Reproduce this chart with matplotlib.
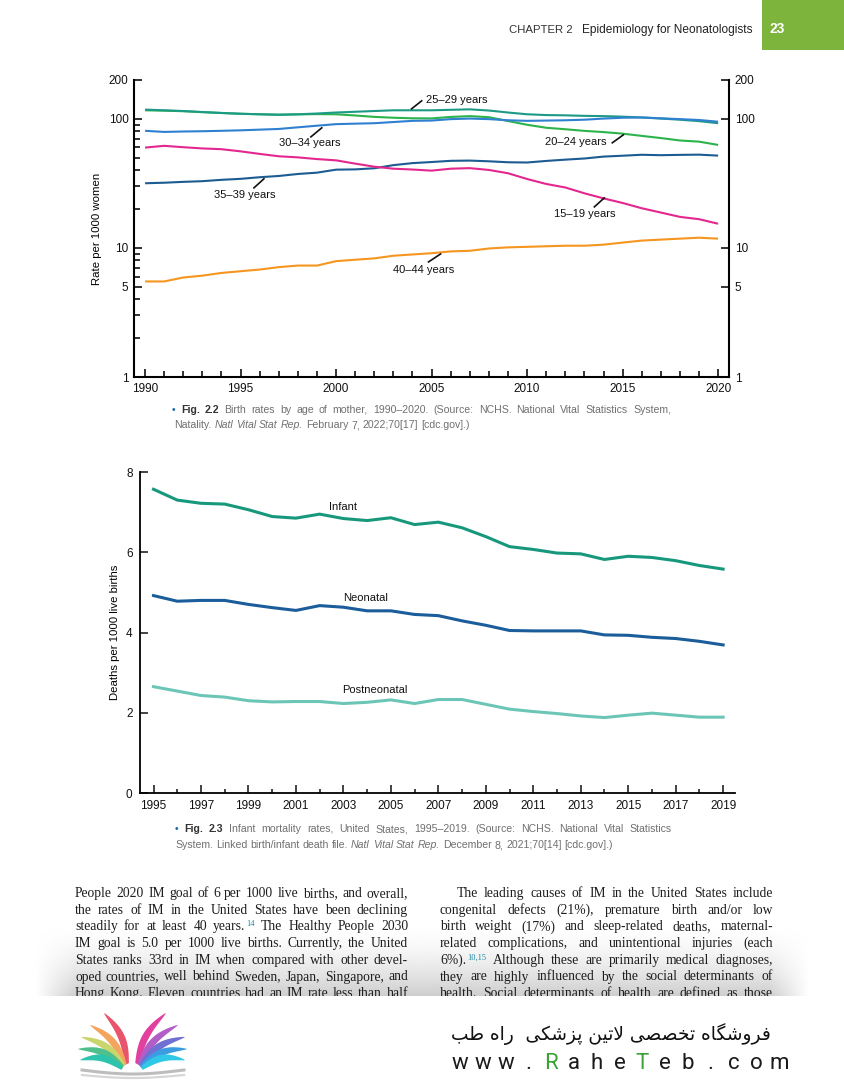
import numpy as np
import matplotlib
matplotlib.use('Agg')
import matplotlib.pyplot as plt
from matplotlib.patches import Rectangle, Polygon
from matplotlib.ticker import FixedLocator, NullFormatter

plt.rcParams['font.family'] = ['Liberation Sans', 'DejaVu Sans']

# Fig 2.2 - birth rates per 1000 women by age of mother
birth_years = list(range(1990, 2021))
rate_15_19 = [59.9, 61.8, 60.3, 59.0, 58.2, 56.0, 53.5, 51.3, 50.3, 48.8, 47.7, 45.0, 42.6, 41.1, 40.5, 39.7,
              41.1, 41.5, 40.2, 37.9, 34.2, 31.3, 29.4, 26.5, 24.2, 22.3, 20.3, 18.8, 17.4, 16.7, 15.4]
rate_20_24 = [116.5, 115.7, 114.6, 112.6, 111.1, 109.5, 108.5, 107.8, 108.3, 108.8, 108.5, 106.2, 103.6, 102.0,
              101.0, 100.8, 103.5, 105.0, 103.0, 96.2, 90.0, 85.3, 83.1, 80.7, 79.0, 76.8, 73.8, 71.0, 68.0, 66.6, 62.8]
rate_25_29 = [118.0, 116.5, 115.0, 113.0, 111.0, 109.5, 108.5, 107.5, 108.5, 110.0, 112.0, 113.5, 115.0, 116.5,
              116.5, 116.5, 117.5, 118.5, 116.0, 112.0, 108.5, 107.0, 106.5, 105.5, 105.0, 104.0, 102.5, 100.5,
              98.5, 96.0, 92.5]
rate_30_34 = [80.8, 79.2, 79.8, 80.2, 80.8, 81.5, 82.5, 83.5, 86.0, 88.5, 91.0, 91.8, 92.5, 94.5, 96.5, 97.0,
              99.5, 100.5, 99.5, 97.5, 96.5, 97.0, 97.5, 98.5, 100.5, 102.0, 102.5, 101.0, 99.5, 98.0, 95.0]
rate_35_39 = [31.7, 32.0, 32.5, 32.9, 33.7, 34.3, 35.3, 36.1, 37.4, 38.3, 40.4, 40.6, 41.4, 43.8, 45.4, 46.3,
              47.3, 47.5, 46.9, 46.1, 45.9, 47.2, 48.3, 49.3, 51.0, 51.8, 52.7, 52.3, 52.6, 52.8, 51.9]
rate_40_44 = [5.5, 5.5, 5.9, 6.1, 6.4, 6.6, 6.8, 7.1, 7.3, 7.3, 7.9, 8.1, 8.3, 8.7, 8.9, 9.1,
              9.4, 9.5, 9.9, 10.1, 10.2, 10.3, 10.4, 10.4, 10.6, 11.0, 11.4, 11.6, 11.8, 12.0, 11.8]

# Fig 2.3 - infant mortality per 1000 live births
mort_years = list(range(1995, 2020))
infant = [7.57, 7.30, 7.22, 7.20, 7.06, 6.89, 6.85, 6.95, 6.84, 6.79, 6.86, 6.69, 6.75, 6.61, 6.39,
          6.14, 6.07, 5.98, 5.96, 5.82, 5.90, 5.87, 5.79, 5.67, 5.58]
neonatal = [4.92, 4.78, 4.80, 4.80, 4.70, 4.62, 4.55, 4.67, 4.63, 4.54, 4.54, 4.45, 4.42, 4.29, 4.18,
            4.05, 4.04, 4.04, 4.04, 3.94, 3.93, 3.88, 3.85, 3.78, 3.69]
postneonatal = [2.65, 2.54, 2.43, 2.39, 2.30, 2.27, 2.28, 2.28, 2.23, 2.26, 2.32, 2.23, 2.33, 2.33, 2.21,
                2.09, 2.03, 1.98, 1.92, 1.88, 1.94, 1.99, 1.94, 1.89, 1.89]

W, H = 844, 1080
fig = plt.figure(figsize=(W / 100, H / 100), dpi=100)
rend = fig.canvas.get_renderer()


def box(x0, y0, x1, y1):
    return [x0 / W, 1 - y1 / H, (x1 - x0) / W, (y1 - y0) / H]


# page layer in pixel coordinates (y down)
page = fig.add_axes([0, 0, 1, 1], zorder=0)
page.set_xlim(0, W)
page.set_ylim(H, 0)
page.axis('off')

# ---------------- Fig 2.2 ----------------
ax1 = fig.add_axes(box(134, 80, 729, 377), zorder=2)
ax1.set_facecolor('none')
series = [(rate_20_24, '#2db34b'), (rate_25_29, '#1d9a86'), (rate_30_34, '#2f80d0'),
          (rate_35_39, '#1d5b93'), (rate_15_19, '#e3278e'), (rate_40_44, '#f6951f')]
for vals, col in series:
    ax1.plot(birth_years, vals, color=col, lw=1.5, solid_capstyle='butt')
ax1.set_yscale('log')
ax1.set_ylim(1, 200)
ax1.set_xlim(1989.42, 2020.57)
ax1.set_yticks([1, 5, 10, 100, 200])
ax1.set_yticklabels(['1', '5', '10', '100', '200'])
ax1.yaxis.set_minor_locator(FixedLocator([2, 3, 4, 6, 7, 8, 9, 20, 30, 40, 50, 60, 70, 80, 90]))
ax1.yaxis.set_minor_formatter(NullFormatter())
ax1.set_xticks(range(1990, 2021, 5))
ax1.xaxis.set_minor_locator(FixedLocator(range(1990, 2021)))
ax1.tick_params(which='both', direction='in', width=1.2, labelsize=8.5, colors='#111')
ax1.tick_params(which='major', length=6)
ax1.tick_params(which='minor', length=4)
ax1.tick_params(axis='y', right=True, labelright=True, pad=4)
ax1.tick_params(axis='x', pad=4)
ax1.spines['top'].set_visible(False)
for s in ('left', 'right', 'bottom'):
    ax1.spines[s].set_linewidth(1.5)
ax1.set_ylabel('Rate per 1000 women', fontsize=8.2, labelpad=5)

age_labels = [('25–29 years', (2004.69, 140.3), (2003.95, 119.5), (2004.48, 137.9)),
              ('30–34 years', (1997.0, 65.2), (1998.68, 72.5), (1999.25, 85.2)),
              ('35–39 years', (1993.61, 25.7), (1995.70, 29.2), (1996.22, 34.3)),
              ('40–44 years', (2002.96, 6.75), (2004.84, 7.79), (2005.47, 8.98)),
              ('20–24 years', (2010.96, 66.3), (2014.46, 65.2), (2015.04, 75.2)),
              ('15–19 years', (2011.43, 18.4), (2013.52, 20.8), (2014.04, 24.4))]
for txt, pos, p0, p1 in age_labels:
    ax1.text(pos[0], pos[1], txt, fontsize=8, va='center', ha='left', color='#111')
    ax1.plot([p0[0], p1[0]], [p0[1], p1[1]], color='#111', lw=1.2)

# ---------------- Fig 2.3 ----------------
ax2 = fig.add_axes(box(139.5, 472, 735, 793), zorder=2)
ax2.set_facecolor('none')
ax2.plot(mort_years, infant, color='#17987d', lw=2.2)
ax2.plot(mort_years, neonatal, color='#1b5d9b', lw=2.2)
ax2.plot(mort_years, postneonatal, color='#6cc6b7', lw=2.2)
ax2.set_ylim(0, 8)
ax2.set_xlim(1994.41, 2019.5)
ax2.set_yticks([0, 2, 4, 6, 8])
ax2.set_xticks(range(1995, 2020, 2))
ax2.xaxis.set_minor_locator(FixedLocator(range(1996, 2019, 2)))
ax2.tick_params(which='both', direction='in', width=1.1, labelsize=8.5, colors='#111')
ax2.tick_params(which='major', length=6)
ax2.tick_params(which='minor', length=3)
ax2.tick_params(axis='x', pad=5)
ax2.tick_params(axis='y', pad=5)
for s in ('top', 'right'):
    ax2.spines[s].set_visible(False)
for s in ('left', 'bottom'):
    ax2.spines[s].set_linewidth(1.3)
ax2.set_ylabel('Deaths per 1000 live births', fontsize=8.2, labelpad=4)
ax2.text(2003.0, 7.13, 'Infant', fontsize=8, ha='center', va='center', color='#111')
ax2.text(2003.95, 4.86, 'Neonatal', fontsize=8, ha='center', va='center', color='#111')
ax2.text(2004.33, 2.57, 'Postneonatal', fontsize=8, ha='center', va='center', color='#111')


# ---------------- page text ----------------
def place_line(tokens, x0, y, x1=None, size=7.6, family=('Liberation Sans',), color='#707070'):
    items = []
    for tok in tokens:
        kw = dict(fontsize=size, family=list(family), color=color, va='baseline', zorder=3)
        if tok.startswith('*'):
            tok = tok[1:]
            kw.update(weight='bold', color='#333333')
        elif tok.startswith('_'):
            tok = tok[1:]
            kw['style'] = 'italic'
        elif tok == '•':
            kw['color'] = '#1d6fa5'
        base, _, sup = tok.partition('^')
        t = page.text(0, y, base, **kw)
        w = t.get_window_extent(rend).width
        s, ws = None, 0
        if sup:
            s = page.text(0, y - size * 0.45, sup, fontsize=size * 0.62, family=list(family),
                          color='#1b8aa6', va='baseline', zorder=3)
            ws = s.get_window_extent(rend).width + 1
        items.append((t, w, s, ws))
    total = sum(w + ws for _, w, _, ws in items)
    gap = (x1 - x0 - total) / (len(items) - 1) if x1 else size * 0.28 * 100 / 72
    x = x0
    for t, w, s, ws in items:
        t.set_x(x)
        if s:
            s.set_x(x + w + 1)
        x += w + ws + gap


# header
page.add_patch(Rectangle((762, 0), 82, 50, color='#7db43c', lw=0))
page.text(770, 33, '23', fontsize=10, weight='bold', color='white', va='baseline')
head = page.text(753, 33, 'Epidemiology for Neonatologists', fontsize=8.6, color='#222',
                 va='baseline', ha='right')
head_left = 753 - head.get_window_extent(rend).width
page.text(head_left - 10, 33, 'CHAPTER 2', fontsize=8.2, color='#333', va='baseline', ha='right')

# captions
place_line('• *Fig. *2.2 Birth rates by age of mother, 1990–2020. (Source: NCHS. National Vital Statistics System,'.split(),
           172, 413, 671)
place_line('Natality. _Natl _Vital _Stat _Rep. February 7, 2022;70[17] [cdc.gov].)'.split(), 174, 428)
place_line('• *Fig. *2.3 Infant mortality rates, United States, 1995–2019. (Source: NCHS. National Vital Statistics'.split(),
           175, 832, 672)
place_line('System. Linked birth/infant death file. _Natl _Vital _Stat _Rep. December 8, 2021;70[14] [cdc.gov].)'.split(),
           175, 848)

# body text (two justified columns)
left_col = ['People 2020 IM goal of 6 per 1000 live births, and overall,',
            'the rates of IM in the United States have been declining',
            'steadily for at least 40 years.^14 The Healthy People 2030',
            'IM goal is 5.0 per 1000 live births. Currently, the United',
            'States ranks 33rd in IM when compared with other devel-',
            'oped countries, well behind Sweden, Japan, Singapore, and',
            'Hong Kong. Eleven countries had an IM rate less than half']
right_col = ['The leading causes of IM in the United States include',
             'congenital defects (21%), premature birth and/or low',
             'birth weight (17%) and sleep-related deaths, maternal-',
             'related complications, and unintentional injuries (each',
             '6%).^10,15 Although these are primarily medical diagnoses,',
             'they are highly influenced by the social determinants of',
             'health. Social determinants of health are defined as those']
serif = ('Liberation Serif',)
for i, line in enumerate(left_col):
    place_line(line.split(), 75, 897 + i * 16.7, 408, size=9.8, family=serif, color='#1e1e1e')
for i, line in enumerate(right_col):
    place_line(line.split(), 457 if i == 0 else 440, 897 + i * 16.7, 773, size=9.8, family=serif, color='#1e1e1e')

# grey fade over the lower part of the text
gy = np.linspace(0, 1, 80)[:, None]
gx = np.linspace(35, 810, 400)[None, :]
alpha = gy ** 1.6 * np.clip(np.minimum(gx - 35, 810 - gx) / 40, 0, 1) * 0.95
shade = np.zeros((80, 400, 4))
shade[..., :3] = 0.80
shade[..., 3] = alpha
page.imshow(shade, extent=(35, 810, 996, 925), aspect='auto', zorder=1, interpolation='bilinear')
page.set_xlim(0, W)
page.set_ylim(H, 0)
page.add_patch(Rectangle((0, 996), W, H - 996, color='white', lw=0, zorder=5))


# ---------------- footer logo and shop name ----------------
def strip(base, tip, bend, width, color):
    t = np.linspace(0, 1, 40)
    base, tip = np.array(base, float), np.array(tip, float)
    d = tip - base
    n = np.array([-d[1], d[0]]) / np.hypot(*d)
    mid = base + d * t[:, None] + bend * np.sin(np.pi * t)[:, None] * n
    w = width * np.sin(np.pi * (0.15 + 0.85 * t)) ** 0.7
    pts = np.vstack([mid + (w / 2)[:, None] * n, (mid - (w / 2)[:, None] * n)[::-1]])
    page.add_patch(Polygon(pts, closed=True, color=color, lw=0, zorder=7))


left_strips = [((127, 1064), (104, 1013), '#e8546c'), ((125, 1065), (90, 1025), '#f4a45e'),
               ((124, 1066), (81, 1037), '#c9d66c'), ((123, 1067), (78, 1049), '#4fc08b'),
               ((122, 1068), (80, 1060), '#2ec3ad')]
right_strips = [((137, 1064), (166, 1013), '#e2409f'), ((139, 1065), (178, 1025), '#b25ec9'),
                ((140, 1066), (185, 1037), '#6f70d1'), ((141, 1067), (187, 1049), '#3c9be1'),
                ((142, 1068), (185, 1060), '#31c7e6')]
for b, tp, c in left_strips:
    strip(b, tp, 6, 7, c)
for b, tp, c in right_strips:
    strip(b, tp, -6, 7, c)
arc_x = np.linspace(82, 184, 60)
page.plot(arc_x, 1070 + 4 * np.sin(np.pi * (arc_x - 82) / 102), color='#bdbdbd', lw=2.2, zorder=7)
page.plot(arc_x, 1075 + 3 * np.sin(np.pi * (arc_x - 82) / 102), color='#d6d6d6', lw=1.6, zorder=7)

# Persian line, shaped by hand (matplotlib has no Arabic shaping)
FORMS = {'ا': 0xFE8D, 'ر': 0xFEAD, 'ز': 0xFEAF, 'و': 0xFEED, 'ﻻ': 0xFEFB,
         'ب': 0xFE8F, 'ت': 0xFE95, 'خ': 0xFEA5, 'ش': 0xFEB5, 'ص': 0xFEB9, 'ط': 0xFEC1,
         'ف': 0xFED1, 'ل': 0xFEDD, 'ن': 0xFEE5, 'ه': 0xFEE9,
         'پ': 0xFB56, 'ک': 0xFB8E, 'گ': 0xFB92, 'ی': 0xFBFC}
RIGHT_ONLY = set('ارزوﻻ')


def shape_fa(text):
    text = text.replace('لا', 'ﻻ')
    out = []
    for i, ch in enumerate(text):
        if ch not in FORMS:
            out.append(ch)
            continue
        prev = text[i - 1] if i else ' '
        nxt = text[i + 1] if i + 1 < len(text) else ' '
        jp = prev in FORMS and prev not in RIGHT_ONLY
        jn = ch not in RIGHT_ONLY and nxt in FORMS
        form = 3 if (jp and jn) else 2 if jn else 1 if jp else 0
        out.append(chr(FORMS[ch] + form))
    return ''.join(reversed(out))


page.text(771, 1040, shape_fa('فروشگاه تخصصی لاتین پزشکی  راه طب'), fontsize=13.4,
          family=['DejaVu Sans'], color='#111', ha='right', va='baseline', zorder=8)
site = 'www.RaheTeb.com'
for i, ch in enumerate(site):
    page.text(460 + i * 22.8, 1069, ch, fontsize=16, family=['Roboto', 'DejaVu Sans'],
              color='#3aa336' if ch in 'RT' else '#1a1a1a', ha='center', va='baseline', zorder=8)

fig.savefig('out.png', dpi=100)
